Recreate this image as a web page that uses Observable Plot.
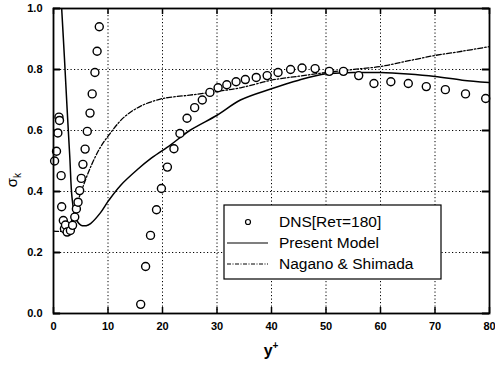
<!DOCTYPE html>
<html><head><meta charset="utf-8">
<script src="https://cdn.jsdelivr.net/npm/d3@7"></script>
<script src="https://cdn.jsdelivr.net/npm/@observablehq/plot@0.6"></script>
<style>body{margin:0;background:#fff;} #chart{position:relative;width:495px;height:365px;}</style>
</head><body><div id="chart"></div>
<script>
// DNS [Re_tau = 180]
const dnsX = [0.2,0.55,0.8,1.0,1.1,1.4,1.5,1.8,2.0,2.2,2.5,3.1,3.5,3.9,4.2,4.5,4.8,5.1,5.4,5.8,6.2,6.7,7.1,7.6,8.0,8.4,
  16.0,16.9,17.8,18.9,19.8,20.9,22.1,23.2,24.5,25.9,27.3,28.7,30.2,31.8,33.5,35.2,37.2,39.2,41.2,43.5,45.6,48.0,50.6,53.2,56.0,58.8,61.9,65.1,68.4,71.9,75.6,79.3];
const dnsY = [0.50,0.532,0.592,0.644,0.633,0.452,0.35,0.305,0.278,0.29,0.267,0.272,0.289,0.316,0.343,0.365,0.403,0.443,0.489,0.539,0.597,0.657,0.72,0.79,0.86,0.94,
  0.03,0.154,0.256,0.34,0.41,0.48,0.54,0.59,0.64,0.675,0.70,0.725,0.74,0.75,0.76,0.767,0.774,0.78,0.79,0.80,0.805,0.803,0.794,0.794,0.78,0.754,0.76,0.754,0.744,0.734,0.72,0.705];
// Present Model
const modelX = [1.5,2.0,2.5,3.0,3.4,4.0,5.0,6.0,6.8,8.6,10.1,12.3,15.4,18,21.5,25,30,34.3,40,45,50,55,60,65,70,75,80];
const modelY = [1.0,0.84,0.67,0.51,0.38,0.316,0.29,0.288,0.295,0.33,0.37,0.42,0.472,0.51,0.553,0.60,0.65,0.70,0.737,0.765,0.786,0.79,0.79,0.785,0.777,0.765,0.757];
// Nagano & Shimada
const nsX = [0,2,2.5,3.1,4.3,5.6,6.8,8.6,10.5,12.9,16,19.6,21,25,30,34.3,40,45,50,55,60,65,70,75,80];
const nsY = [0.27,0.27,0.275,0.295,0.36,0.425,0.48,0.545,0.593,0.643,0.68,0.703,0.708,0.716,0.728,0.74,0.765,0.778,0.79,0.80,0.81,0.828,0.846,0.86,0.875];

const xTicks = [0,10,20,30,40,50,60,70,80];
const yTicks = [0,0.2,0.4,0.6,0.8,1.0];
const legendLabels = ["DNS[Re\u03c4=180]","Present Model","Nagano & Shimada"];
const xLabel = "y", xLabelSup = "+";
const yLabel = "\u03c3", yLabelSub = "k";

const dns = dnsX.map((x,i)=>({x, y:dnsY[i]}));
const model = modelX.map((x,i)=>({x, y:modelY[i]}));
const ns = nsX.map((x,i)=>({x, y:nsY[i]}));
const font = "'Liberation Sans', Arial, Helvetica, sans-serif";

const plot = Plot.plot({
  width: 495, height: 365,
  marginLeft: 53, marginRight: 6, marginTop: 8, marginBottom: 52,
  style: {fontFamily: font, fontSize: "11px", fontWeight: "bold", color: "black", background: "white"},
  x: {domain: [0,80], ticks: xTicks, tickSize: 0, tickPadding: 9, label: null},
  y: {domain: [0,1], ticks: yTicks, tickSize: 0, tickPadding: 11, tickFormat: d3.format(".1f"), label: null},
  marks: [
    Plot.ruleX(xTicks.slice(1,-1), {stroke: "black", strokeWidth: 1, strokeDasharray: "1.2,2.3"}),
    Plot.ruleY(yTicks.slice(1,-1), {stroke: "black", strokeWidth: 1, strokeDasharray: "1.2,2.3"}),
    Plot.ruleY(yTicks, {x1: 0, x2: 1.3, stroke: "black", strokeWidth: 2}),
    Plot.ruleY(yTicks, {x1: 78.7, x2: 80, stroke: "black", strokeWidth: 2}),
    Plot.ruleX(xTicks, {y1: 0, y2: 0.02, stroke: "black", strokeWidth: 1.5}),
    Plot.ruleX(xTicks, {y1: 0.98, y2: 1, stroke: "black", strokeWidth: 1.5}),
    Plot.line(ns, {x: "x", y: "y", stroke: "black", strokeWidth: 1.3, strokeDasharray: "5,2,1.5,2", curve: "catmull-rom", clip: true}),
    Plot.line(model, {x: "x", y: "y", stroke: "black", strokeWidth: 1.5, curve: "catmull-rom", clip: true}),
    Plot.dot(dns, {x: "x", y: "y", r: 4, stroke: "black", strokeWidth: 1.4, fill: "white"}),
    Plot.frame({stroke: "black", strokeWidth: 1.8})
  ]
});
document.getElementById("chart").appendChild(plot);

const svg = d3.select(plot);
// axis titles
const xt = svg.append("text").attr("x", 271).attr("y", 356).attr("text-anchor", "middle")
  .style("font-family", font).style("font-size", "16px").style("font-weight", "bold").attr("fill", "black");
xt.append("tspan").text(xLabel);
xt.append("tspan").attr("dy", -7).style("font-size", "10px").text(xLabelSup);
const yt = svg.append("text").attr("transform", "translate(17,180) rotate(-90)").attr("text-anchor", "middle")
  .style("font-family", font).style("font-size", "15px").style("font-weight", "normal").attr("fill", "black");
yt.append("tspan").text(yLabel);
yt.append("tspan").attr("dy", 4).style("font-size", "10px").text(yLabelSub);

// legend
const lg = svg.append("g").attr("text-anchor", "start");
lg.append("rect").attr("x", 224).attr("y", 205).attr("width", 217).attr("height", 74)
  .attr("fill", "white").attr("stroke", "black").attr("stroke-width", 1.2);
const rows = [222, 243, 264];
lg.append("circle").attr("cx", 248).attr("cy", rows[0]).attr("r", 2.5).attr("fill", "white").attr("stroke", "black").attr("stroke-width", 1.2);
lg.append("line").attr("x1", 227).attr("x2", 268).attr("y1", rows[1]).attr("y2", rows[1]).attr("stroke", "black").attr("stroke-width", 1.2);
lg.append("line").attr("x1", 227).attr("x2", 268).attr("y1", rows[2]).attr("y2", rows[2]).attr("stroke", "black").attr("stroke-width", 1).attr("stroke-dasharray", "4,1.5,1,1.5");
legendLabels.forEach((t, i) => {
  lg.append("text").attr("x", 279).attr("y", rows[i] + 5).attr("text-anchor", "start").text(t)
    .style("font-family", font).style("font-size", "15.5px").style("font-weight", "normal").attr("fill", "black");
});
</script>
</body></html>
